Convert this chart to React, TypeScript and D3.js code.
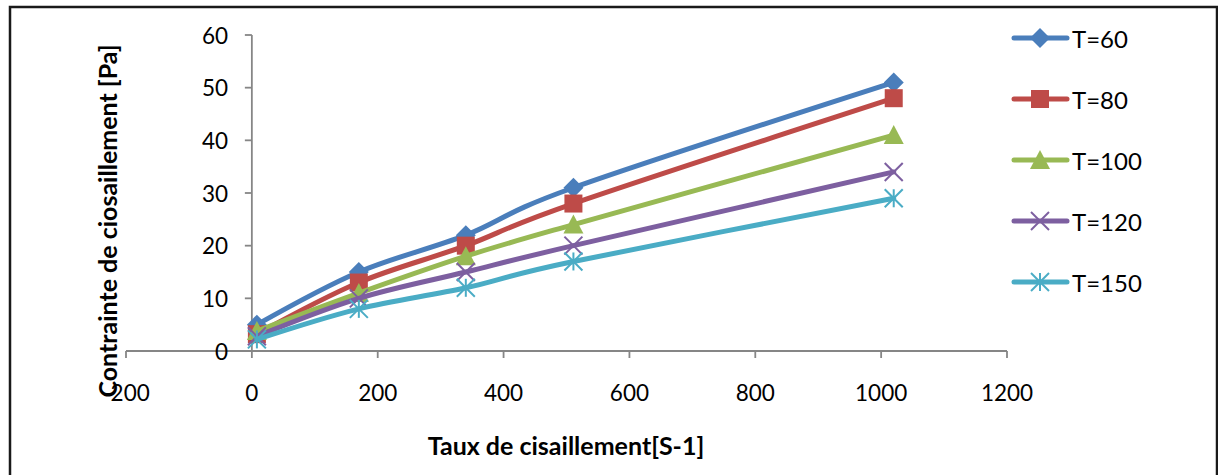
import React from "react";
import * as d3 from "d3";

const shearRates = [8, 170, 340, 511, 1020];
const seriesNames = ["T=60", "T=80", "T=100", "T=120", "T=150"];
const t60 = [5, 15, 22, 31, 51];
const t80 = [3.2, 13, 20, 28, 48];
const t100 = [3.8, 11, 18, 24, 41];
const t120 = [2.8, 10, 15, 20, 34];
const t150 = [2.2, 8, 12, 17, 29];
const seriesValues = [t60, t80, t100, t120, t150];
const colors = ["#4A7EBB", "#BE4B48", "#98B954", "#7D5FA0", "#4AACC5"];
const markerTypes = ["diamond", "square", "triangle", "x", "star"];
const xTicks = [-200, 0, 200, 400, 600, 800, 1000, 1200];
const yTicks = [0, 10, 20, 30, 40, 50, 60];

const W = 1218;
const H = 475;
const FONT = "Lato, 'Open Sans', sans-serif";

function Marker({ type, x, y, color }: { type: string; x: number; y: number; color: string }) {
  const s = 9;
  if (type === "diamond") {
    return <path d={`M${x},${y - s - 1}L${x + s + 1},${y}L${x},${y + s + 1}L${x - s - 1},${y}Z`} fill={color} />;
  }
  if (type === "square") {
    return <rect x={x - s} y={y - s} width={2 * s} height={2 * s} fill={color} />;
  }
  if (type === "triangle") {
    return <path d={`M${x},${y - s - 1}L${x + s + 1},${y + s}L${x - s - 1},${y + s}Z`} fill={color} />;
  }
  if (type === "x") {
    return (
      <g stroke={color} strokeWidth={2}>
        <line x1={x - s} y1={y - s} x2={x + s} y2={y + s} />
        <line x1={x - s} y1={y + s} x2={x + s} y2={y - s} />
      </g>
    );
  }
  return (
    <g stroke={color} strokeWidth={2}>
      <line x1={x - s} y1={y - s} x2={x + s} y2={y + s} />
      <line x1={x - s} y1={y + s} x2={x + s} y2={y - s} />
      <line x1={x} y1={y - s} x2={x} y2={y + s} />
    </g>
  );
}

export default function App() {
  const x = d3.scaleLinear().domain([-200, 1200]).range([126, 1007]);
  const y = d3.scaleLinear().domain([0, 60]).range([351, 35]);
  const line = d3
    .line<number>()
    .x((_, i) => x(shearRates[i]))
    .y((d) => y(d))
    .curve(d3.curveCardinal.tension(0));

  const legendRows = [38, 99, 160, 221, 282];

  return (
    <svg
      width={W}
      height={H}
      style={{ position: "absolute", left: 0, top: 0, display: "block", background: "#fff" }}
      fontFamily={FONT}
    >
      <rect x={10} y={7} width={1207} height={520} fill="#fff" stroke="#1a1a1a" strokeWidth={2.5} />

      {/* axes */}
      <g stroke="#868686" strokeWidth={1.8}>
        <line x1={x(-200)} x2={x(1200)} y1={y(0)} y2={y(0)} />
        <line x1={x(0)} x2={x(0)} y1={y(0)} y2={y(60)} />
        {xTicks.map((t) => (
          <line key={"xt" + t} x1={x(t)} x2={x(t)} y1={y(0)} y2={y(0) + 7} />
        ))}
        {yTicks.map((t) => (
          <line key={"yt" + t} x1={x(0) - 7} x2={x(0)} y1={y(t)} y2={y(t)} />
        ))}
      </g>
      <g fontSize={22.5} fill="#000">
        {xTicks.map((t) => (
          <text key={"xl" + t} x={x(t)} y={392} textAnchor="middle" dominantBaseline="central">
            {t}
          </text>
        ))}
        {yTicks.map((t) => (
          <text key={"yl" + t} x={228} y={y(t)} textAnchor="end" dominantBaseline="central">
            {t}
          </text>
        ))}
      </g>

      {/* series */}
      {seriesValues.map((vals, si) => (
        <g key={"s" + si}>
          <path
            d={line(vals) || ""}
            fill="none"
            stroke={colors[si]}
            strokeWidth={5}
            strokeLinecap="round"
            strokeLinejoin="round"
          />
          {vals.map((v, i) => (
            <Marker key={i} type={markerTypes[si]} x={x(shearRates[i])} y={y(v)} color={colors[si]} />
          ))}
        </g>
      ))}

      {/* axis titles */}
      <text x={566} y={445} textAnchor="middle" dominantBaseline="central" fontWeight="bold" fontSize={25}>
        Taux de cisaillement[S-1]
      </text>
      <text
        transform="translate(107,221) rotate(-90)"
        textAnchor="middle"
        dominantBaseline="central"
        fontWeight="bold"
        fontSize={25}
      >
        Contrainte de ciosaillement [Pa]
      </text>

      {/* legend */}
      {seriesNames.map((name, i) => (
        <g key={"lg" + i}>
          <line
            x1={1014}
            x2={1067}
            y1={legendRows[i]}
            y2={legendRows[i]}
            stroke={colors[i]}
            strokeWidth={5}
            strokeLinecap="round"
          />
          <Marker type={markerTypes[i]} x={1040} y={legendRows[i]} color={colors[i]} />
          <text x={1072} y={legendRows[i]} dominantBaseline="central" fontSize={24}>
            {name}
          </text>
        </g>
      ))}
    </svg>
  );
}
